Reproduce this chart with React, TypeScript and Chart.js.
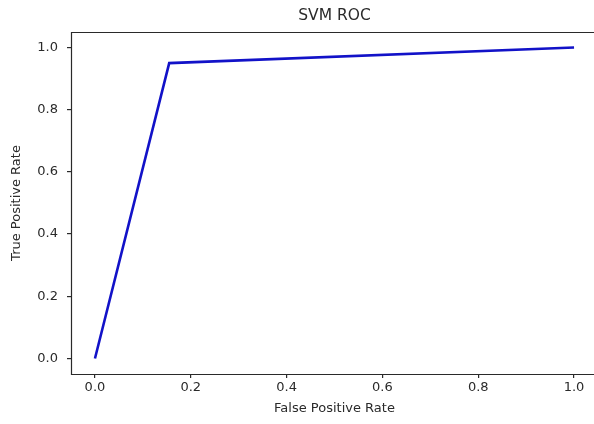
import React, { useEffect, useRef } from "react";
import { Chart, registerables } from "chart.js";

Chart.register(...registerables);

const fpr = [0, 0.155, 1];
const tpr = [0, 0.95, 1];
const xTicks = [0, 0.2, 0.4, 0.6, 0.8, 1.0];
const yTicks = [0, 0.2, 0.4, 0.6, 0.8, 1.0];
const titleText = "SVM ROC";
const xLabel = "False Positive Rate";
const yLabel = "True Positive Rate";

const FONT = "'DejaVu Sans', sans-serif";
const INK = "#2a2a2a";

const boxPlugin = {
  id: "boxAndTitle",
  afterDraw(chart: any) {
    const { ctx, chartArea } = chart;
    const l = Math.round(chartArea.left) + 0.5;
    const t = Math.round(chartArea.top) + 0.5;
    const b = Math.round(chartArea.bottom) + 0.5;
    const r = chartArea.right + 10;
    ctx.save();
    ctx.strokeStyle = INK;
    ctx.lineWidth = 1.2;
    ctx.beginPath();
    ctx.moveTo(r, t);
    ctx.lineTo(l, t);
    ctx.lineTo(l, b);
    ctx.lineTo(r, b);
    ctx.stroke();
    ctx.fillStyle = INK;
    ctx.font = `15.5px ${FONT}`;
    ctx.textAlign = "center";
    ctx.textBaseline = "middle";
    ctx.fillText(titleText, (chartArea.left + chartArea.right) / 2, 16);
    ctx.restore();
  },
};

export default function App() {
  const ref = useRef<HTMLCanvasElement>(null);
  useEffect(() => {
    if (!ref.current) return;
    const chart = new Chart(ref.current, {
      type: "line",
      data: {
        datasets: [
          {
            data: fpr.map((x, i) => ({ x, y: tpr[i] })),
            borderColor: "#1212c8",
            borderWidth: 2.6,
            pointRadius: 0,
            tension: 0,
            fill: false,
          },
        ],
      },
      options: {
        animation: false,
        responsive: false,
        layout: { padding: { top: 32, right: 2, left: 0, bottom: 0 } },
        plugins: { legend: { display: false }, tooltip: { enabled: false }, title: { display: false } },
        scales: {
          x: {
            type: "linear",
            min: -0.05,
            max: 1.05,
            afterFit: (s: any) => {
              s.height = 50;
            },
            afterBuildTicks: (s: any) => {
              s.ticks = xTicks.map((v) => ({ value: v }));
            },
            grid: { drawOnChartArea: false, drawTicks: true, tickLength: 4, color: INK, lineWidth: 1.2 },
            border: { display: false },
            ticks: {
              color: INK,
              font: { family: FONT, size: 13 },
              padding: 2,
              maxRotation: 0,
              callback: (v: any) => Number(v).toFixed(1),
            },
            title: {
              display: true,
              text: xLabel,
              color: INK,
              font: { family: FONT, size: 13 },
              padding: { top: 0, bottom: 8 },
            },
          },
          y: {
            type: "linear",
            min: -0.05,
            max: 1.05,
            afterFit: (s: any) => {
              s.width = 71;
            },
            afterBuildTicks: (s: any) => {
              s.ticks = yTicks.map((v) => ({ value: v }));
            },
            grid: { drawOnChartArea: false, drawTicks: true, tickLength: 4, color: INK, lineWidth: 1.2 },
            border: { display: false },
            ticks: {
              color: INK,
              font: { family: FONT, size: 13 },
              padding: 9,
              callback: (v: any) => Number(v).toFixed(1),
            },
            title: {
              display: true,
              text: yLabel,
              color: INK,
              font: { family: FONT, size: 13 },
              padding: { top: 9, bottom: 0 },
            },
          },
        },
      },
      plugins: [boxPlugin],
    } as any);
    return () => chart.destroy();
  }, []);
  return (
    <div style={{ position: "fixed", left: 0, top: 0, width: 600, height: 424, background: "#fff" }}>
      <canvas ref={ref} width={600} height={424} style={{ width: 600, height: 424, display: "block" }} />
    </div>
  );
}
